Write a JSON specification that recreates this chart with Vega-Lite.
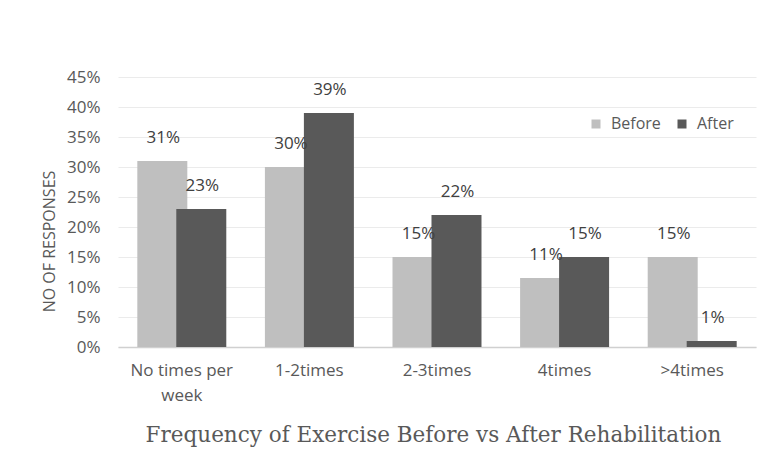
{
  "$schema": "https://vega.github.io/schema/vega-lite/v6.json",
  "autosize": "none",
  "width": 638,
  "height": 270,
  "padding": {"left": 118, "top": 77, "right": 11, "bottom": 117},
  "background": "white",
  "config": {
    "view": {"stroke": null},
    "font": "Open Sans",
    "axis": {"labelFont": "Open Sans", "titleFont": "Open Sans"}
  },
  "data": {
    "values": [
      {"category": "No times per week", "period": "Before", "value": 0.31, "label": "31%"},
      {"category": "No times per week", "period": "After", "value": 0.23, "label": "23%"},
      {"category": "1-2times", "period": "Before", "value": 0.30, "label": "30%"},
      {"category": "1-2times", "period": "After", "value": 0.39, "label": "39%"},
      {"category": "2-3times", "period": "Before", "value": 0.15, "label": "15%"},
      {"category": "2-3times", "period": "After", "value": 0.22, "label": "22%"},
      {"category": "4times", "period": "Before", "value": 0.115, "label": "11%"},
      {"category": "4times", "period": "After", "value": 0.15, "label": "15%"},
      {"category": ">4times", "period": "Before", "value": 0.15, "label": "15%"},
      {"category": ">4times", "period": "After", "value": 0.01, "label": "1%"}
    ]
  },
  "encoding": {
    "x": {
      "field": "category",
      "type": "nominal",
      "sort": ["No times per week", "1-2times", "2-3times", "4times", ">4times"],
      "scale": {"paddingInner": 0.389, "paddingOuter": 0.1945},
      "axis": {
        "title": "Frequency of Exercise Before vs After Rehabilitation",
        "titleFont": "DejaVu Serif",
        "titleFontSize": 21.5,
        "titleFontWeight": "normal",
        "titleColor": "#595959",
        "titleX": 315,
        "titleY": 88,
        "titleAnchor": "middle",
        "titleBaseline": "middle",
        "labelAngle": 0,
        "labelFontSize": 17,
        "labelColor": "#595959",
        "labelPadding": 15,
        "labelLineHeight": 25,
        "labelBaseline": "top",
        "labelExpr": "datum.label == 'No times per week' ? ['No times per', 'week'] : datum.label",
        "ticks": false,
        "domainColor": "#d0d0d0",
        "domainWidth": 1.5,
        "grid": false
      }
    },
    "xOffset": {
      "field": "period",
      "type": "nominal",
      "sort": ["Before", "After"],
      "scale": {"paddingInner": 0, "paddingOuter": 0}
    },
    "y": {
      "field": "value",
      "type": "quantitative",
      "scale": {"domain": [0, 0.45], "nice": false},
      "axis": {
        "title": "NO OF RESPONSES",
        "titleFontSize": 16,
        "titleFontWeight": "normal",
        "titleColor": "#595959",
        "titleBaseline": "middle",
        "titleY": 164,
        "titleX": -69,
        "format": ".0%",
        "values": [0, 0.05, 0.1, 0.15, 0.2, 0.25, 0.3, 0.35, 0.4, 0.45],
        "labelFontSize": 17,
        "labelColor": "#595959",
        "labelPadding": 18,
        "ticks": false,
        "domain": false,
        "gridColor": "#ebebeb",
        "gridWidth": 1
      }
    }
  },
  "layer": [
    {
      "mark": {"type": "bar", "width": 50},
      "encoding": {
        "color": {
          "field": "period",
          "type": "nominal",
          "sort": ["Before", "After"],
          "scale": {"domain": ["Before", "After"], "range": ["#bfbfbf", "#595959"]},
          "legend": {
            "title": null,
            "orient": "none",
            "legendX": 470,
            "legendY": 39,
            "direction": "horizontal",
            "symbolType": "square",
            "symbolSize": 81,
            "symbolStrokeWidth": 0,
            "labelFontSize": 16,
            "labelColor": "#595959",
            "labelFont": "Open Sans",
            "columnPadding": 13,
            "labelOffset": 7
          }
        }
      }
    },
    {
      "mark": {"type": "text", "baseline": "middle", "dy": -23, "dx": 1, "fontSize": 17, "color": "#404040"},
      "encoding": {"text": {"field": "label"}}
    }
  ]
}
